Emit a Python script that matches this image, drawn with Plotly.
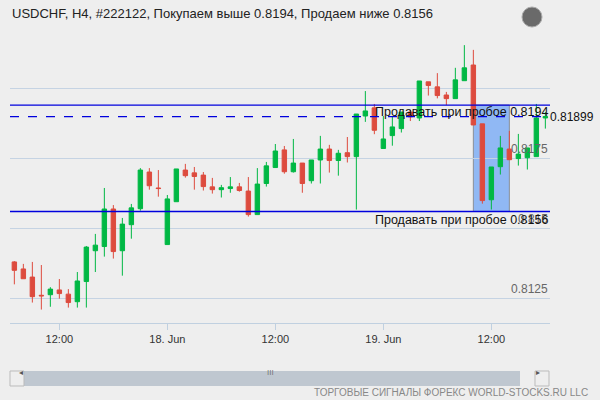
import plotly.graph_objects as go
import pandas as pd

start = pd.Timestamp("2013-06-17 07:00")
opens  = [0.8138,0.81355,0.81326,0.81261,0.81263,0.8128,0.81265,0.81238,0.8131,0.8142,
          0.81435,0.81569,0.8142,0.81513,0.8157,0.81701,0.81644,0.81442,0.81595,0.81708,
          0.81698,0.8169,0.81648,0.81638,0.81642,0.81648,0.81633,0.81549,0.8166,0.81717,
          0.8178,0.81702,0.81733,0.8167,0.81744,0.81783,0.81742,0.8177,0.81756,0.81901,
          0.8193,0.81785,0.81831,0.81856,0.81915,0.81894,0.82023,0.82005,0.81976,0.81963,
          0.82027,0.82083,0.81873,0.81602,0.8172,0.81783,0.81749,0.81752,0.81756,0.81894]
highs  = [0.81383,0.81373,0.8138,0.81369,0.8129,0.81319,0.81283,0.81344,0.81437,0.8148,
          0.81644,0.81583,0.81537,0.81587,0.81715,0.81715,0.81708,0.81619,0.81712,0.8173,
          0.81719,0.81701,0.8168,0.81655,0.81683,0.81662,0.81683,0.81715,0.81737,0.81801,
          0.81794,0.81819,0.81733,0.81744,0.8183,0.81798,0.8178,0.81826,0.81908,0.8199,
          0.81944,0.81901,0.81901,0.81915,0.81923,0.82026,0.82023,0.82054,0.81987,0.82073,
          0.82154,0.82137,0.81873,0.81719,0.8183,0.81848,0.81837,0.81787,0.81944,0.81915]
lows   = [0.8130,0.8132,0.81235,0.8121,0.8122,0.81249,0.81217,0.81217,0.81217,0.81344,
          0.81399,0.81392,0.81331,0.81463,0.81563,0.81638,0.81613,0.81442,0.81595,0.81681,
          0.81638,0.81635,0.81624,0.8161,0.81627,0.81631,0.81542,0.81549,0.81649,0.81717,
          0.81695,0.81699,0.81627,0.8166,0.8166,0.81699,0.81688,0.81735,0.81567,0.8188,
          0.81836,0.81785,0.81795,0.81842,0.81883,0.81883,0.81974,0.81964,0.8194,0.81963,
          0.82027,0.81869,0.81588,0.81567,0.81692,0.81745,0.81724,0.8171,0.81756,0.81856]
closes = [0.8135,0.8132,0.81256,0.81259,0.81283,0.81267,0.81235,0.81312,0.81433,0.8144,
          0.81569,0.81417,0.81515,0.81573,0.81708,0.81652,0.81642,0.81605,0.81712,0.81688,
          0.81685,0.81649,0.81638,0.81645,0.81648,0.81635,0.81549,0.81658,0.81723,0.81776,
          0.81702,0.81733,0.8166,0.81744,0.81783,0.81742,0.81768,0.81756,0.81908,0.81919,
          0.8185,0.81819,0.81862,0.81915,0.81898,0.82026,0.8201,0.81974,0.81963,0.8203,
          0.82073,0.81869,0.81599,0.81719,0.81787,0.81745,0.81765,0.81787,0.81894,0.81899]
times = [start + pd.Timedelta(hours=i) for i in range(len(opens))]

buy_level = 0.8194
sell_level = 0.8156
last_price = 0.81899
grid_levels = [0.8125, 0.815, 0.8175, 0.82]
grid_labels = ["0.8125", "0.815", "0.8175"]
tick_times = ["2013-06-17 12:00", "2013-06-18 00:00", "2013-06-18 12:00", "2013-06-19 00:00", "2013-06-19 12:00"]
tick_text = ["12:00", "18. Jun", "12:00", "19. Jun", "12:00"]
box_start, box_end = times[51], times[55]

FONT = "Liberation Sans"

fig = go.Figure(go.Candlestick(
    x=times, open=opens, high=highs, low=lows, close=closes,
    increasing=dict(line=dict(color="#00b844", width=1), fillcolor="#00b844"),
    decreasing=dict(line=dict(color="#dd4b3e", width=1), fillcolor="#dd4b3e"),
    whiskerwidth=0, showlegend=False, hoverinfo="skip"))

def px(x):
    return (x - 10) / 540
def py(y):
    return (323 - y) / 293

blue = "#0000dd"
shapes = [
    dict(type="rect", xref="x", yref="y", x0=box_start, x1=box_end, y0=sell_level, y1=buy_level,
         fillcolor="rgba(120,170,245,0.8)", line=dict(color="#8a8f99", width=1), layer="below"),
    dict(type="line", xref="paper", yref="y", x0=0, x1=1, y0=buy_level, y1=buy_level, line=dict(color=blue, width=1.3)),
    dict(type="line", xref="paper", yref="y", x0=0, x1=1, y0=sell_level, y1=sell_level, line=dict(color=blue, width=1.3)),
    dict(type="line", xref="paper", yref="y", x0=0, x1=1, y0=last_price, y1=last_price, line=dict(color=blue, width=1.2, dash="dash")),
    dict(type="rect", xref="paper", yref="paper", x0=px(10), x1=px(520), y0=py(371), y1=py(386),
         fillcolor="#bfc7d0", line=dict(width=0)),
    dict(type="rect", xref="paper", yref="paper", x0=px(10), x1=px(24), y0=py(371), y1=py(386),
         fillcolor="#eeeeee", line=dict(color="#bbbbbb", width=1)),
    dict(type="rect", xref="paper", yref="paper", x0=px(535), x1=px(549), y0=py(371), y1=py(386),
         fillcolor="#eeeeee", line=dict(color="#bbbbbb", width=1)),
    dict(type="circle", xref="paper", yref="paper", x0=px(522), x1=px(542), y0=py(27), y1=py(7),
         fillcolor="#6a6a6a", line=dict(color="#aaaaaa", width=1)),
]

ann = []
for v, t in zip([0.8125, 0.815, 0.8175], grid_labels):
    ann.append(dict(x=1, xref="paper", y=v, yref="y", text=t, showarrow=False, xanchor="right", yanchor="bottom",
                    font=dict(color="#666666", size=12, family=FONT)))
ann += [
    dict(x=1, xref="paper", y=buy_level, yref="y", text="Продавать при пробое 0.8194", showarrow=False,
         xanchor="right", yanchor="top", yshift=2, font=dict(color="#111111", size=12.5, family=FONT)),
    dict(x=1, xref="paper", y=sell_level, yref="y", text="Продавать при пробое 0.8156", showarrow=False,
         xanchor="right", yanchor="top", yshift=1, font=dict(color="#111111", size=12.5, family=FONT)),
    dict(x=1, xref="paper", y=last_price, yref="y", text="0.81899", showarrow=False, xshift=-2,
         xanchor="left", yanchor="middle", font=dict(color="#111111", size=12, family=FONT)),
    dict(x=0, xref="paper", y=py(13), yref="paper", text="USDCHF, H4, #222122, Покупаем выше 0.8194, Продаем ниже 0.8156",
         showarrow=False, xanchor="left", yanchor="middle", font=dict(color="#222222", size=13, family=FONT)),
    dict(x=px(590), xref="paper", y=py(392), yref="paper", text="ТОРГОВЫЕ СИГНАЛЫ ФОРЕКС WORLD-STOCKS.RU LLC",
         showarrow=False, xanchor="right", yanchor="middle", font=dict(color="#888888", size=10, family=FONT)),
    dict(x=px(270), xref="paper", y=py(378.5), yref="paper", text="III", showarrow=False,
         font=dict(color="#777777", size=8, family=FONT)),
    dict(x=px(17), xref="paper", y=py(378.5), yref="paper", text="◂", showarrow=False,
         font=dict(color="#555555", size=8, family="DejaVu Sans")),
    dict(x=px(542), xref="paper", y=py(378.5), yref="paper", text="▸", showarrow=False,
         font=dict(color="#555555", size=8, family="DejaVu Sans")),
]

fig.update_layout(
    width=600, height=400, margin=dict(l=10, r=50, t=30, b=77),
    paper_bgcolor="#eeeeee", plot_bgcolor="#eeeeee",
    shapes=shapes, annotations=ann,
    xaxis=dict(range=[start - pd.Timedelta(minutes=29), start + pd.Timedelta(minutes=59*60+31)],
               rangeslider=dict(visible=False), showgrid=False, zeroline=False,
               tickvals=tick_times, ticktext=tick_text, ticks="outside", ticklen=6, tickcolor="#c0d0e0",
               showline=True, linecolor="#c0d0e0", tickfont=dict(color="#333333", size=11, family=FONT)),
    yaxis=dict(range=[0.81162, 0.82208], tickvals=grid_levels, showticklabels=False, gridcolor="#c5d3e3",
               zeroline=False, fixedrange=True),
)
fig.write_html("out.html", config={"displayModeBar": False},
               post_script="document.body.style.margin='0';document.body.style.overflow='hidden';document.body.style.background='#eeeeee';")
